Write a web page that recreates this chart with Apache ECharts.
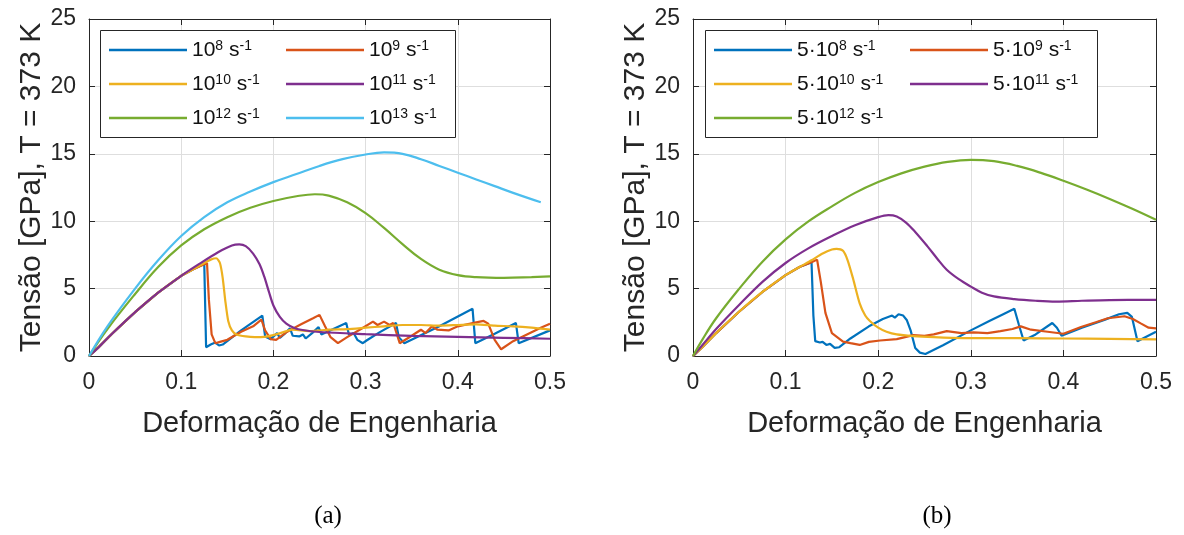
<!DOCTYPE html>
<html>
<head>
<meta charset="utf-8">
<title>Tensão × Deformação, T = 373 K</title>
<script src="https://cdn.jsdelivr.net/npm/echarts@6/dist/echarts.min.js"></script>
<style>
  html, body { margin: 0; padding: 0; background: #fff; }
  #chart { width: 1184px; height: 535px; }
</style>
</head>
<body>
<div id="chart"></div>
<script>
// ---- Axis ticks --------------------------------------------------------
const strainTicks = { min: 0, max: 0.5, interval: 0.1 };
const stressTicks = { min: 0, max: 25, interval: 5 };

// ---- (a) strain rates 10^8 ... 10^13 s^-1 : [strain, stress GPa] -------
const a_1e8 = [[0,0],[0.01,0.62],[0.025,1.65],[0.05,3.25],[0.075,4.7],[0.1,5.95],[0.115,6.5],[0.125,6.85],
  [0.127,0.65],[0.132,0.85],[0.137,1.0],[0.141,0.78],[0.145,0.85],[0.165,1.9],[0.188,3.0],[0.191,1.45],
  [0.197,1.25],[0.204,1.7],[0.207,1.35],[0.213,1.7],[0.218,2.05],[0.221,1.5],[0.228,1.45],[0.232,1.6],
  [0.235,1.3],[0.242,1.7],[0.249,2.15],[0.252,1.6],[0.265,2.0],[0.279,2.45],[0.282,1.55],[0.287,1.7],
  [0.291,1.2],[0.297,0.95],[0.301,1.15],[0.315,1.75],[0.333,2.45],[0.336,1.4],[0.342,0.95],[0.38,2.2],
  [0.416,3.5],[0.419,0.95],[0.44,1.65],[0.463,2.45],[0.466,0.95],[0.5,1.9]];
const a_1e9 = [[0,0],[0.01,0.62],[0.025,1.65],[0.05,3.25],[0.075,4.7],[0.1,5.95],[0.115,6.5],[0.128,6.9],
  [0.13,4.2],[0.133,1.6],[0.137,0.95],[0.142,1.05],[0.15,1.2],[0.165,1.8],[0.178,2.2],[0.187,2.7],
  [0.191,1.9],[0.197,1.25],[0.203,1.2],[0.215,1.8],[0.23,2.35],[0.243,2.8],[0.25,3.05],[0.256,2.2],
  [0.262,1.4],[0.27,0.95],[0.28,1.4],[0.295,2.0],[0.308,2.55],[0.313,2.3],[0.32,2.55],[0.326,2.3],
  [0.33,2.45],[0.337,0.95],[0.35,1.5],[0.36,1.95],[0.365,1.7],[0.372,2.2],[0.378,1.95],[0.39,1.9],
  [0.4,2.2],[0.41,2.35],[0.42,2.5],[0.428,2.6],[0.433,2.4],[0.44,1.2],[0.447,0.5],[0.46,1.1],
  [0.475,1.6],[0.49,2.1],[0.5,2.4]];
const a_1e10 = [[0,0],[0.01,0.62],[0.025,1.65],[0.05,3.25],[0.075,4.7],[0.1,5.95],[0.115,6.5],[0.125,6.9],
  [0.132,7.15],[0.138,7.25],[0.142,6.9],[0.145,5.8],[0.148,4.0],[0.151,2.6],[0.155,1.9],[0.16,1.6],
  [0.17,1.45],[0.18,1.4],[0.19,1.42],[0.2,1.55],[0.21,1.75],[0.22,1.95],[0.23,1.9],[0.24,1.85],
  [0.26,1.95],[0.28,2.0],[0.3,2.1],[0.32,2.2],[0.34,2.3],[0.36,2.3],[0.38,2.25],[0.4,2.3],
  [0.42,2.35],[0.44,2.25],[0.46,2.2],[0.48,2.1],[0.5,1.95]];
const a_1e11 = [[0,0],[0.01,0.62],[0.025,1.65],[0.05,3.25],[0.075,4.7],[0.1,5.95],[0.12,6.85],[0.14,7.7],
  [0.155,8.2],[0.163,8.28],[0.17,8.15],[0.178,7.6],[0.185,6.8],[0.19,5.9],[0.195,4.8],[0.2,3.75],
  [0.207,2.9],[0.214,2.4],[0.222,2.1],[0.23,1.95],[0.25,1.78],[0.3,1.62],[0.35,1.5],[0.4,1.42],
  [0.45,1.35],[0.5,1.28]];
const a_1e12 = [[0,0],[0.02,2.0],[0.05,4.6],[0.075,6.6],[0.1,8.2],[0.125,9.4],[0.15,10.3],[0.175,11.0],
  [0.2,11.5],[0.225,11.85],[0.245,12.0],[0.26,11.9],[0.28,11.4],[0.3,10.6],[0.32,9.5],[0.34,8.3],
  [0.36,7.2],[0.38,6.4],[0.4,6.0],[0.42,5.85],[0.45,5.8],[0.48,5.85],[0.5,5.9]];
const a_1e13 = [[0,0],[0.02,2.2],[0.05,5.0],[0.075,7.1],[0.1,8.9],[0.125,10.3],[0.15,11.4],[0.175,12.2],
  [0.2,12.9],[0.225,13.5],[0.25,14.1],[0.275,14.6],[0.3,14.95],[0.32,15.1],[0.34,15.0],[0.36,14.6],
  [0.38,14.1],[0.4,13.6],[0.42,13.1],[0.44,12.6],[0.46,12.1],[0.49,11.4]];

// ---- (b) strain rates 5·10^8 ... 5·10^12 s^-1 ---------------------------
const b_5e8 = [[0,0],[0.01,0.65],[0.025,1.7],[0.05,3.3],[0.075,4.75],[0.1,6.0],[0.115,6.6],[0.128,6.95],
  [0.13,3.0],[0.132,1.1],[0.137,1.0],[0.14,1.05],[0.144,0.82],[0.148,0.9],[0.153,0.6],[0.158,0.65],
  [0.17,1.3],[0.19,2.2],[0.205,2.75],[0.215,3.0],[0.218,2.85],[0.222,3.1],[0.227,3.0],[0.231,2.65],
  [0.235,1.9],[0.24,0.6],[0.245,0.25],[0.251,0.15],[0.27,0.8],[0.3,1.9],[0.32,2.6],[0.335,3.1],
  [0.347,3.5],[0.352,2.3],[0.357,1.15],[0.37,1.6],[0.388,2.45],[0.393,2.1],[0.398,1.5],[0.42,2.1],
  [0.445,2.7],[0.46,3.1],[0.469,3.2],[0.474,2.9],[0.48,1.1],[0.5,1.8]];
const b_5e9 = [[0,0],[0.01,0.65],[0.025,1.7],[0.05,3.3],[0.075,4.75],[0.1,6.0],[0.115,6.6],[0.128,6.95],
  [0.134,7.15],[0.138,5.5],[0.143,3.2],[0.15,1.7],[0.162,1.07],[0.17,0.95],[0.18,0.82],[0.19,1.05],
  [0.202,1.15],[0.22,1.25],[0.238,1.55],[0.25,1.5],[0.26,1.6],[0.274,1.85],[0.29,1.7],[0.303,1.75],
  [0.318,1.7],[0.332,1.85],[0.345,2.0],[0.354,2.2],[0.365,1.95],[0.383,1.8],[0.4,1.65],[0.419,2.15],
  [0.435,2.5],[0.448,2.8],[0.466,2.95],[0.475,2.75],[0.484,2.4],[0.492,2.1],[0.5,2.05]];
const b_5e10 = [[0,0],[0.01,0.65],[0.025,1.7],[0.05,3.3],[0.075,4.75],[0.1,6.0],[0.115,6.6],[0.128,7.1],
  [0.14,7.6],[0.15,7.9],[0.155,7.95],[0.162,7.8],[0.167,7.1],[0.173,5.7],[0.18,3.9],[0.186,3.0],
  [0.191,2.6],[0.2,2.1],[0.209,1.8],[0.22,1.6],[0.238,1.48],[0.26,1.4],[0.292,1.33],[0.35,1.32],
  [0.4,1.3],[0.45,1.27],[0.5,1.24]];
const b_5e11 = [[0,0],[0.01,0.8],[0.025,2.0],[0.05,3.8],[0.075,5.5],[0.1,6.9],[0.125,8.0],[0.15,8.9],
  [0.175,9.7],[0.2,10.3],[0.211,10.45],[0.22,10.35],[0.23,9.9],[0.24,9.2],[0.253,8.15],[0.264,7.2],
  [0.274,6.4],[0.287,5.7],[0.3,5.15],[0.312,4.7],[0.325,4.42],[0.347,4.22],[0.37,4.1],[0.392,4.04],
  [0.42,4.1],[0.45,4.15],[0.5,4.17]];
const b_5e12 = [[0,0],[0.01,1.2],[0.025,2.8],[0.05,5.0],[0.075,7.0],[0.1,8.65],[0.125,10.0],[0.15,11.1],
  [0.175,12.1],[0.2,12.9],[0.225,13.55],[0.25,14.05],[0.275,14.4],[0.3,14.55],[0.325,14.45],[0.35,14.1],
  [0.375,13.6],[0.4,13.0],[0.425,12.35],[0.45,11.65],[0.475,10.9],[0.5,10.1]];

// ---- Series names (strain-rate exponents) ------------------------------
const expA = [8, 9, 10, 11, 12, 13];
const expB = [8, 9, 10, 11, 12];
const dataA = [a_1e8, a_1e9, a_1e10, a_1e11, a_1e12, a_1e13];
const dataB = [b_5e8, b_5e9, b_5e10, b_5e11, b_5e12];
// curves without sudden load drops are drawn smoothed
const smoothA = [0, 0, 0.2, 0.3, 0.4, 0.4];
const smoothB = [0, 0, 0.25, 0.35, 0.4];

const xTitle = 'Deformação de Engenharia';
const yTitle = 'Tensão [GPa], T = 373 K';
const captions = ['(a)', '(b)'];

// MATLAB default line colours
const palette = ['#0072BD', '#D95319', '#EDB120', '#7E2F8E', '#77AC30', '#4DBEEE'];
const ink = '#262626';
const sans = '"Liberation Sans", Arial, Helvetica, sans-serif';

const nameA = e => '10^' + e + ' s^-1';
const nameB = e => '5·10^' + e + ' s^-1';
// Rich-text legend label with superscripts
const richLabel = (prefix, e) => '{b|' + prefix + '}{s|' + e + '}{b| s}{s|-1}';
const labelMap = {};
expA.forEach(e => { labelMap[nameA(e)] = richLabel('10', e); });
expB.forEach(e => { labelMap[nameB(e)] = richLabel('5·10', e); });

const richStyles = {
  b: { fontSize: 21, lineHeight: 22, fontFamily: sans, color: '#111' },
  s: { fontSize: 14, lineHeight: 11, verticalAlign: 'top', fontFamily: sans, color: '#111' }
};

function xAxisCfg(gridIndex, top) {
  return {
    type: 'value', gridIndex, position: top ? 'top' : 'bottom',
    min: strainTicks.min, max: strainTicks.max, interval: strainTicks.interval,
    name: top ? '' : xTitle, nameLocation: 'middle', nameGap: 53,
    nameTextStyle: { fontSize: 29, color: ink, fontFamily: sans },
    axisLine: { show: true, onZero: false, lineStyle: { color: ink, width: 1 } },
    axisTick: { show: true, inside: true, length: 6, lineStyle: { color: ink, width: 1 } },
    axisLabel: { show: !top, fontSize: 23, color: ink, fontFamily: sans, margin: 15 },
    splitLine: { show: !top, lineStyle: { color: '#dedede', width: 1 } }
  };
}
function yAxisCfg(gridIndex, right) {
  return {
    type: 'value', gridIndex, position: right ? 'right' : 'left',
    min: stressTicks.min, max: stressTicks.max, interval: stressTicks.interval,
    name: right ? '' : yTitle, nameLocation: 'middle', nameGap: 41,
    nameTextStyle: { fontSize: 30, color: ink, fontFamily: sans },
    axisLine: { show: true, onZero: false, lineStyle: { color: ink, width: 1 } },
    axisTick: { show: true, inside: true, length: 6, lineStyle: { color: ink, width: 1 } },
    axisLabel: { show: !right, fontSize: 23, color: ink, fontFamily: sans, margin: 13 },
    splitLine: { show: !right, lineStyle: { color: '#dedede', width: 1 } }
  };
}
// one legend column: entries stacked vertically
function legendColumn(names, left) {
  return {
    data: names, orient: 'vertical', left, top: 39, padding: 0, z: 6,
    itemWidth: 78, itemHeight: 2.5, itemGap: 12.5, icon: 'rect',
    textStyle: { fontSize: 21, fontFamily: sans, rich: richStyles },
    formatter: n => labelMap[n]
  };
}
const namesA = expA.map(nameA);
const namesB = expB.map(nameB);
const evenOf = arr => arr.filter((_, i) => i % 2 === 0);
const oddOf = arr => arr.filter((_, i) => i % 2 === 1);

const series = [];
dataA.forEach((d, i) => series.push({
  name: namesA[i], type: 'line', xAxisIndex: 0, yAxisIndex: 0, data: d,
  symbol: 'none', smooth: smoothA[i] || false,
  lineStyle: { width: 2.2, color: palette[i] }, itemStyle: { color: palette[i] }, z: 3
}));
dataB.forEach((d, i) => series.push({
  name: namesB[i], type: 'line', xAxisIndex: 2, yAxisIndex: 2, data: d,
  symbol: 'none', smooth: smoothB[i] || false,
  lineStyle: { width: 2.2, color: palette[i] }, itemStyle: { color: palette[i] }, z: 3
}));

// legend frames
const legendFrames = [
  { x: 100.5, y: 30.5, width: 355, height: 107 },
  { x: 705.5, y: 30.5, width: 392, height: 107 }
].map(s => ({
  type: 'rect', z: 4, shape: s,
  style: { fill: '#fff', stroke: ink, lineWidth: 1 }
}));
const captionTexts = captions.map((c, i) => ({
  type: 'text', x: i === 0 ? 328 : 937, y: 516,
  style: { text: c, font: '25px "Liberation Serif", "DejaVu Serif", serif', fill: '#000',
           align: 'center', verticalAlign: 'middle' }
}));

const chart = echarts.init(document.getElementById('chart'), null, { renderer: 'canvas' });
chart.setOption({
  animation: false,
  backgroundColor: '#fff',
  grid: [
    { left: 89, right: 634, top: 19, bottom: 179, containLabel: false },
    { left: 693, right: 28, top: 19, bottom: 179, containLabel: false }
  ],
  xAxis: [xAxisCfg(0, false), xAxisCfg(0, true), xAxisCfg(1, false), xAxisCfg(1, true)],
  yAxis: [yAxisCfg(0, false), yAxisCfg(0, true), yAxisCfg(1, false), yAxisCfg(1, true)],
  legend: [
    legendColumn(evenOf(namesA), 109),
    legendColumn(oddOf(namesA), 286),
    legendColumn(evenOf(namesB), 714),
    legendColumn(oddOf(namesB), 910)
  ],
  series,
  graphic: legendFrames.concat(captionTexts)
});
</script>
</body>
</html>
